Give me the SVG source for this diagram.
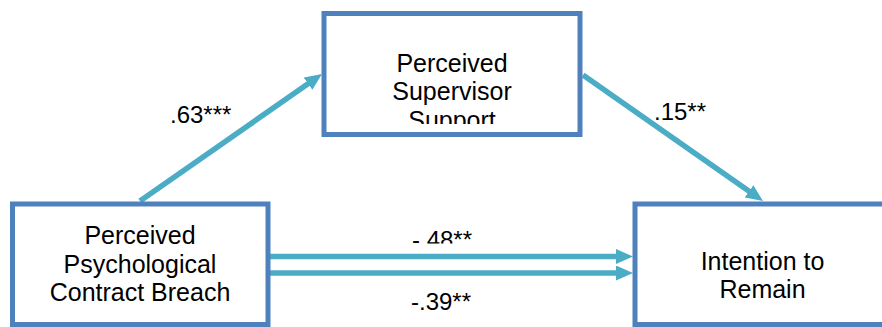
<svg xmlns="http://www.w3.org/2000/svg" width="882" height="327" viewBox="0 0 882 327">
<style>
.box{fill:#ffffff;stroke:#4F81BD;stroke-width:5}
.t{font-family:"Liberation Sans",Arial,sans-serif;font-size:25px;fill:#000000;text-anchor:middle}
.lbl{font-family:"Liberation Sans",Arial,sans-serif;font-size:24px;fill:#000000}
.arr{stroke:#4BACC6;stroke-width:5.5;fill:none}
</style>
<defs>
<marker id="ah" markerUnits="userSpaceOnUse" markerWidth="17" markerHeight="15" refX="7" refY="7.5" orient="auto">
<path d="M0,0 L17,7.5 L0,15 z" fill="#4BACC6"/>
</marker>
<clipPath id="clipTop"><rect x="327" y="16" width="250" height="108"/></clipPath>
<clipPath id="clipLbl"><rect x="400" y="220" width="100" height="23.5"/></clipPath>
</defs>
<rect width="882" height="327" fill="#ffffff"/>
<g id="connectors">
<line class="arr" x1="140" y1="201" x2="313.8" y2="79.7" marker-end="url(#ah)"/>
<line class="arr" x1="583" y1="75" x2="754.8" y2="195.3" marker-end="url(#ah)"/>
<line class="arr" x1="270" y1="256.5" x2="623" y2="256.5" marker-end="url(#ah)"/>
<line class="arr" x1="270" y1="273" x2="623" y2="273" marker-end="url(#ah)"/>
<text class="lbl" x="170" y="123">.63***</text>
<text class="lbl" x="654" y="120">.15**</text>
<text class="lbl" x="412" y="248" clip-path="url(#clipLbl)">-.48**</text>
<text class="lbl" x="411" y="310">-.39**</text>
</g>
<g id="node-pss">
<rect class="box" x="324" y="13.5" width="256" height="121"/>
<g clip-path="url(#clipTop)">
<text class="t" x="452" y="71.5">Perceived</text>
<text class="t" x="452" y="100">Supervisor</text>
<text class="t" x="452" y="128.5">Support</text>
</g>
</g>
<g id="node-ppcb">
<rect class="box" x="12.5" y="204" width="255.5" height="120.5"/>
<text class="t" x="140" y="244">Perceived</text>
<text class="t" x="140" y="272.5">Psychological</text>
<text class="t" x="140" y="301">Contract Breach</text>
</g>
<g id="node-itr">
<rect class="box" x="635" y="204" width="255" height="120.5"/>
<text class="t" x="762.5" y="269.5">Intention to</text>
<text class="t" x="762.5" y="298">Remain</text>
</g>
</svg>
